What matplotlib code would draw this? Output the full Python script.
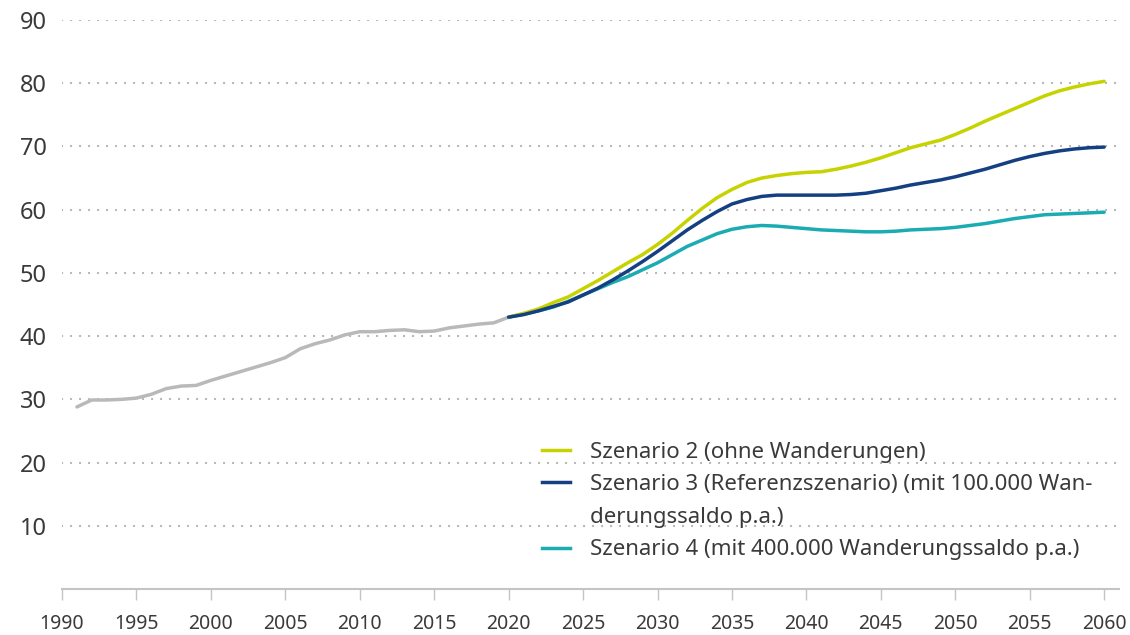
import matplotlib
matplotlib.use("Agg")
import matplotlib.pyplot as plt
from matplotlib.lines import Line2D

# ---- data ----
hist_years = list(range(1991, 2021))
hist_values = [28.8, 29.9, 29.9, 30.0, 30.2, 30.8, 31.7, 32.1, 32.2, 33.0,
               33.7, 34.4, 35.1, 35.8, 36.6, 38.0, 38.8, 39.4, 40.2, 40.7,
               40.7, 40.9, 41.0, 40.7, 40.8, 41.3, 41.6, 41.9, 42.1, 43.0]

scen_years = list(range(2020, 2061))
scen2 = [43.0, 43.6, 44.3, 45.3, 46.2, 47.5, 48.8, 50.2, 51.6, 52.9,
         54.5, 56.3, 58.3, 60.2, 61.9, 63.2, 64.3, 65.0, 65.4, 65.7,
         65.9, 66.0, 66.4, 66.9, 67.5, 68.2, 69.0, 69.8, 70.4, 71.0,
         71.9, 72.9, 74.0, 75.0, 76.0, 77.0, 78.0, 78.8, 79.4, 79.9, 80.3]
scen3 = [43.0, 43.4, 44.0, 44.7, 45.4, 46.5, 47.6, 48.9, 50.3, 51.8,
         53.4, 55.1, 56.8, 58.3, 59.7, 60.9, 61.6, 62.1, 62.3, 62.3,
         62.3, 62.3, 62.3, 62.4, 62.6, 63.0, 63.4, 63.9, 64.3, 64.7,
         65.2, 65.8, 66.4, 67.1, 67.8, 68.4, 68.9, 69.3, 69.6, 69.8, 69.9]
scen4 = [43.0, 43.5, 44.0, 44.6, 45.5, 46.5, 47.5, 48.5, 49.4, 50.5,
         51.6, 52.9, 54.2, 55.2, 56.2, 56.9, 57.3, 57.5, 57.4, 57.2,
         57.0, 56.8, 56.7, 56.6, 56.5, 56.5, 56.6, 56.8, 56.9, 57.0,
         57.2, 57.5, 57.8, 58.2, 58.6, 58.9, 59.2, 59.3, 59.4, 59.5, 59.6]

labels = ["Szenario 2 (ohne Wanderungen)",
          "Szenario 3 (Referenzszenario) (mit 100.000 Wan-",
          "derungssaldo p.a.)",
          "Szenario 4 (mit 400.000 Wanderungssaldo p.a.)"]
xticks = list(range(1990, 2061, 5))
yticks = list(range(10, 91, 10))

# ---- style ----
plt.rcParams['font.family'] = ['Noto Sans', 'DejaVu Sans']
c_hist = "#b9b9b9"
c2 = "#c6d300"
c3 = "#143f80"
c4 = "#1aacb2"
txt = "#3a3a3a"

fig = plt.figure(figsize=(11.3, 6.35), dpi=100)
ax = fig.add_axes([0.0549, 0.0724, 0.9354, 0.8961])

lw = 2.5
ax.plot(hist_years, hist_values, color=c_hist, lw=lw, solid_capstyle='round')
ax.plot(scen_years, scen4, color=c4, lw=lw, solid_capstyle='round')
ax.plot(scen_years, scen2, color=c2, lw=lw, solid_capstyle='round')
ax.plot(scen_years, scen3, color=c3, lw=lw, solid_capstyle='round')

ax.set_xlim(1990, 2061)
ax.set_ylim(0, 90)
ax.set_xticks(xticks)
ax.set_yticks(yticks)

for y in yticks:
    ax.axhline(y, color="#b0b0b0", lw=1.6, dashes=(0.05, 4.0),
               dash_capstyle='round', zorder=0)

for s in ['top', 'right', 'left']:
    ax.spines[s].set_visible(False)
ax.spines['bottom'].set_color("#c4c4c4")
ax.spines['bottom'].set_linewidth(1.5)

ax.tick_params(axis='y', length=0, pad=11, labelsize=17, labelcolor=txt)
ax.tick_params(axis='x', length=8, width=1, color="#c4c4c4", pad=10,
               labelsize=14, labelcolor=txt)

handles = [Line2D([], [], color=c2, lw=lw),
           Line2D([], [], color=c3, lw=lw),
           Line2D([], [], color='none', lw=0),
           Line2D([], [], color=c4, lw=lw)]
leg = ax.legend(handles, labels, loc='upper left', bbox_to_anchor=(0.4545, 0.259),
                frameon=False, fontsize=16, handlelength=1.22, handletextpad=0.9,
                labelspacing=0.52, borderpad=0, borderaxespad=0)
for t in leg.get_texts():
    t.set_color(txt)

fig.savefig("out.png", dpi=100)
